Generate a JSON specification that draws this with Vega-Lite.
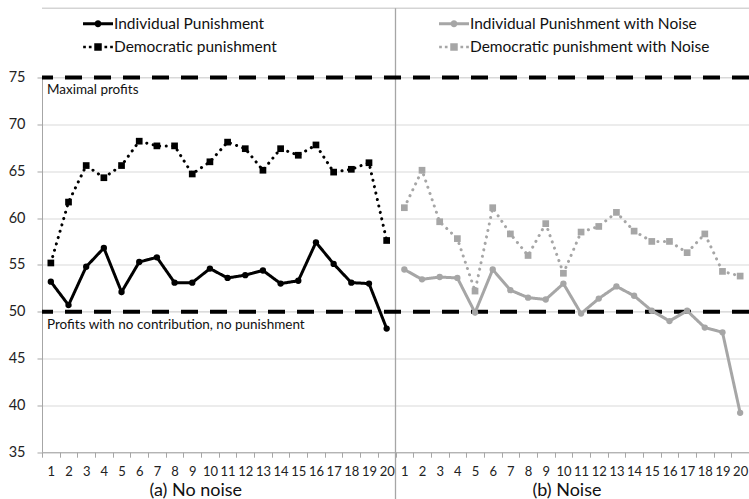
{
  "$schema": "https://vega.github.io/schema/vega-lite/v6.json",
  "autosize": {"type": "none"},
  "padding": {"left": 42, "top": 77.5, "right": 0, "bottom": 47},
  "width": 707,
  "height": 374.7,
  "background": "white",
  "config": {
    "font": "Lato",
    "view": {"stroke": null},
    "axis": {"labelFont": "Lato", "labelColor": "#222", "domainColor": "#a6a6a6", "tickColor": "#a6a6a6"}
  },
  "datasets": {
    "series": [
      {"p": "a1", "s": "Individual Punishment", "v": 53.2},
      {"p": "a2", "s": "Individual Punishment", "v": 50.7},
      {"p": "a3", "s": "Individual Punishment", "v": 54.8},
      {"p": "a4", "s": "Individual Punishment", "v": 56.8},
      {"p": "a5", "s": "Individual Punishment", "v": 52.1},
      {"p": "a6", "s": "Individual Punishment", "v": 55.3},
      {"p": "a7", "s": "Individual Punishment", "v": 55.8},
      {"p": "a8", "s": "Individual Punishment", "v": 53.1},
      {"p": "a9", "s": "Individual Punishment", "v": 53.1},
      {"p": "a10", "s": "Individual Punishment", "v": 54.6},
      {"p": "a11", "s": "Individual Punishment", "v": 53.6},
      {"p": "a12", "s": "Individual Punishment", "v": 53.9},
      {"p": "a13", "s": "Individual Punishment", "v": 54.4},
      {"p": "a14", "s": "Individual Punishment", "v": 53.0},
      {"p": "a15", "s": "Individual Punishment", "v": 53.3},
      {"p": "a16", "s": "Individual Punishment", "v": 57.4},
      {"p": "a17", "s": "Individual Punishment", "v": 55.1},
      {"p": "a18", "s": "Individual Punishment", "v": 53.1},
      {"p": "a19", "s": "Individual Punishment", "v": 53.0},
      {"p": "a20", "s": "Individual Punishment", "v": 48.2},
      {"p": "a1", "s": "Democratic punishment", "v": 55.2},
      {"p": "a2", "s": "Democratic punishment", "v": 61.7},
      {"p": "a3", "s": "Democratic punishment", "v": 65.6},
      {"p": "a4", "s": "Democratic punishment", "v": 64.3},
      {"p": "a5", "s": "Democratic punishment", "v": 65.6},
      {"p": "a6", "s": "Democratic punishment", "v": 68.2},
      {"p": "a7", "s": "Democratic punishment", "v": 67.7},
      {"p": "a8", "s": "Democratic punishment", "v": 67.7},
      {"p": "a9", "s": "Democratic punishment", "v": 64.7},
      {"p": "a10", "s": "Democratic punishment", "v": 66.0},
      {"p": "a11", "s": "Democratic punishment", "v": 68.1},
      {"p": "a12", "s": "Democratic punishment", "v": 67.4},
      {"p": "a13", "s": "Democratic punishment", "v": 65.1},
      {"p": "a14", "s": "Democratic punishment", "v": 67.4},
      {"p": "a15", "s": "Democratic punishment", "v": 66.7},
      {"p": "a16", "s": "Democratic punishment", "v": 67.8},
      {"p": "a17", "s": "Democratic punishment", "v": 64.9},
      {"p": "a18", "s": "Democratic punishment", "v": 65.2},
      {"p": "a19", "s": "Democratic punishment", "v": 65.9},
      {"p": "a20", "s": "Democratic punishment", "v": 57.6},
      {"p": "b1", "s": "Individual Punishment with Noise", "v": 54.5},
      {"p": "b2", "s": "Individual Punishment with Noise", "v": 53.45},
      {"p": "b3", "s": "Individual Punishment with Noise", "v": 53.7},
      {"p": "b4", "s": "Individual Punishment with Noise", "v": 53.6},
      {"p": "b5", "s": "Individual Punishment with Noise", "v": 49.9},
      {"p": "b6", "s": "Individual Punishment with Noise", "v": 54.5},
      {"p": "b7", "s": "Individual Punishment with Noise", "v": 52.3},
      {"p": "b8", "s": "Individual Punishment with Noise", "v": 51.5},
      {"p": "b9", "s": "Individual Punishment with Noise", "v": 51.3},
      {"p": "b10", "s": "Individual Punishment with Noise", "v": 53.0},
      {"p": "b11", "s": "Individual Punishment with Noise", "v": 49.8},
      {"p": "b12", "s": "Individual Punishment with Noise", "v": 51.4},
      {"p": "b13", "s": "Individual Punishment with Noise", "v": 52.7},
      {"p": "b14", "s": "Individual Punishment with Noise", "v": 51.7},
      {"p": "b15", "s": "Individual Punishment with Noise", "v": 50.1},
      {"p": "b16", "s": "Individual Punishment with Noise", "v": 49.0},
      {"p": "b17", "s": "Individual Punishment with Noise", "v": 50.1},
      {"p": "b18", "s": "Individual Punishment with Noise", "v": 48.3},
      {"p": "b19", "s": "Individual Punishment with Noise", "v": 47.8},
      {"p": "b20", "s": "Individual Punishment with Noise", "v": 39.2},
      {"p": "b1", "s": "Democratic punishment with Noise", "v": 61.1},
      {"p": "b2", "s": "Democratic punishment with Noise", "v": 65.1},
      {"p": "b3", "s": "Democratic punishment with Noise", "v": 59.6},
      {"p": "b4", "s": "Democratic punishment with Noise", "v": 57.8},
      {"p": "b5", "s": "Democratic punishment with Noise", "v": 52.2},
      {"p": "b6", "s": "Democratic punishment with Noise", "v": 61.1},
      {"p": "b7", "s": "Democratic punishment with Noise", "v": 58.3},
      {"p": "b8", "s": "Democratic punishment with Noise", "v": 56.0},
      {"p": "b9", "s": "Democratic punishment with Noise", "v": 59.4},
      {"p": "b10", "s": "Democratic punishment with Noise", "v": 54.1},
      {"p": "b11", "s": "Democratic punishment with Noise", "v": 58.5},
      {"p": "b12", "s": "Democratic punishment with Noise", "v": 59.1},
      {"p": "b13", "s": "Democratic punishment with Noise", "v": 60.6},
      {"p": "b14", "s": "Democratic punishment with Noise", "v": 58.6},
      {"p": "b15", "s": "Democratic punishment with Noise", "v": 57.5},
      {"p": "b16", "s": "Democratic punishment with Noise", "v": 57.5},
      {"p": "b17", "s": "Democratic punishment with Noise", "v": 56.3},
      {"p": "b18", "s": "Democratic punishment with Noise", "v": 58.3},
      {"p": "b19", "s": "Democratic punishment with Noise", "v": 54.3},
      {"p": "b20", "s": "Democratic punishment with Noise", "v": 53.8}
    ],
    "refs": [{"v": 75}, {"v": 50}],
    "frame": [{"v": 82.4}],
    "notes": [
      {"p": "a1", "v": 75, "t": "Maximal profits"},
      {"p": "a1", "v": 50, "t": "Profits with no contribution, no punishment"}
    ],
    "titles": [
      {"p": "a9", "v": 35, "t": "(a) No noise"},
      {"p": "b10", "v": 35, "t": "(b) Noise"}
    ],
    "sep": [{"p": "b1", "v1": 82.4, "v2": 30}]
  },
  "encoding": {
    "x": {
      "field": "p", "type": "ordinal", "bandPosition": 0.5,
      "scale": {"type": "band", "paddingInner": 0, "paddingOuter": 0,
        "domain": ["a1","a2","a3","a4","a5","a6","a7","a8","a9","a10","a11","a12","a13","a14","a15","a16","a17","a18","a19","a20","b1","b2","b3","b4","b5","b6","b7","b8","b9","b10","b11","b12","b13","b14","b15","b16","b17","b18","b19","b20"]},
      "axis": {"title": null, "labelAngle": 0, "labelExpr": "datum.value ? substring(datum.value, 1) : ''", "tickBand": "extent", "tickSize": 5, "labelPadding": 8, "labelFontSize": 13, "grid": false, "domainColor": "#a6a6a6"}
    }
  },
  "layer": [
    {
      "data": {"name": "refs"},
      "mark": {"type": "rule", "color": "#d9d9d9", "strokeWidth": 1},
      "encoding": {"x": null, "y": {"field": "v", "type": "quantitative"}}
    },
    {
      "data": {"name": "frame"},
      "mark": {"type": "rule", "color": "#bfbfbf", "strokeWidth": 1},
      "encoding": {"x": null, "y": {"field": "v", "type": "quantitative"}}
    },
    {
      "data": {"name": "sep"},
      "mark": {"type": "rule", "color": "#a6a6a6", "strokeWidth": 1.3},
      "encoding": {
        "x": {"field": "p", "type": "ordinal", "bandPosition": 0},
        "y": {"field": "v1", "type": "quantitative"},
        "y2": {"field": "v2"}
      }
    },
    {
      "data": {"name": "refs"},
      "mark": {"type": "rule", "color": "black", "strokeWidth": 4, "strokeDash": [17, 12]},
      "encoding": {"x": null, "y": {"field": "v", "type": "quantitative"}}
    },
    {
      "data": {"name": "series"},
      "mark": {"type": "line", "strokeWidth": 3, "strokeCap": "round"},
      "encoding": {
        "y": {"field": "v", "type": "quantitative",
          "scale": {"domain": [35, 75], "nice": false, "zero": false},
          "axis": {"title": null, "values": [35,40,45,50,55,60,65,70,75], "tickSize": 5, "labelPadding": 12, "labelFontSize": 14.5, "grid": true, "gridColor": "#d9d9d9", "domainColor": "#a6a6a6"}},
        "color": {"field": "s", "type": "nominal",
          "scale": {"domain": ["Individual Punishment", "Democratic punishment", "Individual Punishment with Noise", "Democratic punishment with Noise"], "range": ["#000000", "#000000", "#a6a6a6", "#a6a6a6"]},
          "legend": {
            "title": null, "orient": "none", "legendX": 41, "legendY": -62, "columns": 2, "columnPadding": 162, "rowPadding": 6.5,
            "padding": 0, "clipHeight": 16, "symbolSize": 900, "symbolStrokeWidth": 0, "labelFontSize": 15.5, "labelColor": "#111", "labelOffset": 1, "labelLimit": 400
          }},
        "strokeDash": {"field": "s", "type": "nominal", "legend": null,
          "scale": {"domain": ["Individual Punishment", "Democratic punishment", "Individual Punishment with Noise", "Democratic punishment with Noise"], "range": [[1, 0], [0.1, 6.5], [1, 0], [0.1, 6.5]]}}
      }
    },
    {
      "data": {"name": "series"},
      "transform": [{"filter": "false"}],
      "mark": {"type": "point", "filled": true, "opacity": 1},
      "encoding": {
        "y": {"field": "v", "type": "quantitative"},
        "color": {"field": "s", "type": "nominal"},
        "shape": {"field": "s", "type": "nominal",
          "scale": {"domain": ["Individual Punishment", "Democratic punishment", "Individual Punishment with Noise", "Democratic punishment with Noise"],
            "range": [
              "M-1,-0.1H-0.2V0.1H-1ZM0.2,-0.1H1V0.1H0.2ZM0.23,0A0.23,0.23,0,1,1,-0.23,0A0.23,0.23,0,1,1,0.23,0Z",
              "M-0.99,-0.09H-0.81V0.09H-0.99ZM-0.61,-0.09H-0.43V0.09H-0.61ZM-0.25,-0.25H0.25V0.25H-0.25ZM0.43,-0.09H0.61V0.09H0.43ZM0.81,-0.09H0.99V0.09H0.81Z",
              "M-1,-0.1H-0.2V0.1H-1ZM0.2,-0.1H1V0.1H0.2ZM0.23,0A0.23,0.23,0,1,1,-0.23,0A0.23,0.23,0,1,1,0.23,0Z",
              "M-0.99,-0.09H-0.81V0.09H-0.99ZM-0.61,-0.09H-0.43V0.09H-0.61ZM-0.25,-0.25H0.25V0.25H-0.25ZM0.43,-0.09H0.61V0.09H0.43ZM0.81,-0.09H0.99V0.09H0.81Z"
            ]}}
      }
    },
    {
      "data": {"name": "series"},
      "transform": [{"filter": "indexof(datum.s, 'Individual') === 0"}],
      "mark": {"type": "point", "filled": true, "opacity": 1, "size": 40, "shape": "circle"},
      "encoding": {
        "y": {"field": "v", "type": "quantitative"},
        "color": {"field": "s", "type": "nominal"}
      }
    },
    {
      "data": {"name": "series"},
      "transform": [{"filter": "indexof(datum.s, 'Democratic') === 0"}],
      "mark": {"type": "point", "filled": true, "opacity": 1, "size": 45, "shape": "square"},
      "encoding": {
        "y": {"field": "v", "type": "quantitative"},
        "color": {"field": "s", "type": "nominal"}
      }
    },
    {
      "data": {"name": "notes"},
      "mark": {"type": "text", "align": "left", "baseline": "top", "dx": 5, "dy": 6, "fontSize": 13.5, "color": "#111"},
      "encoding": {
        "x": {"field": "p", "type": "ordinal", "bandPosition": 0},
        "y": {"field": "v", "type": "quantitative"},
        "text": {"field": "t"}
      }
    },
    {
      "data": {"name": "titles"},
      "mark": {"type": "text", "align": "center", "baseline": "middle", "dy": 39, "fontSize": 18, "color": "#111"},
      "encoding": {
        "x": {"field": "p", "type": "ordinal", "bandPosition": 0.7},
        "y": {"field": "v", "type": "quantitative"},
        "text": {"field": "t"}
      }
    }
  ]
}
